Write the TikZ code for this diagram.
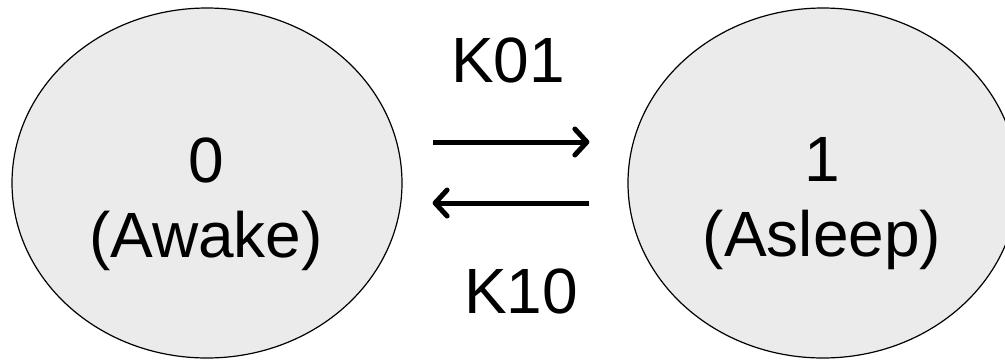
\documentclass[tikz,border=0pt]{standalone}
\usepackage{fontspec}
\setmainfont{Liberation Sans}
\usepackage{tikz}
\usetikzlibrary{positioning,arrows.meta,shapes.geometric}

\begin{document}
\begin{tikzpicture}[x=1pt,y=-1pt]
            \tikzstyle{state}=[draw,ellipse,fill=black!8,line width=1.2pt,minimum width=390pt,minimum height=350pt,inner sep=0pt]
            \tikzstyle{txt}=[inner sep=0pt,align=center,font=\fontsize{64}{75}\selectfont]
            \tikzstyle{rate}=[line width=5pt,-{Straight Barb[round,length=12pt,width=26pt]}]
            \useasboundingbox (0,0) rectangle (1005,360);

            \node[state] (s0) at (207,183) {};
            \node[state] (s1) at (823,183) {};
            \node[txt] (t0) at (206,204) {0\\(Awake)};
            \node[txt] (t1) at (822,204) {1\\(Asleep)};

            \draw[rate,shorten <=30pt,shorten >=38pt] ([yshift=41pt]s0.east) -- ([yshift=41pt]s1.west);
            \draw[rate,shorten <=38pt,shorten >=30pt] ([yshift=-20pt]s1.west) -- ([yshift=-20pt]s0.east);

            \node[txt,anchor=base] (k01) at (508,82) {K01};
            \node[txt,anchor=base] (k10) at (521,313) {K10};
        \end{tikzpicture}
\end{document}
